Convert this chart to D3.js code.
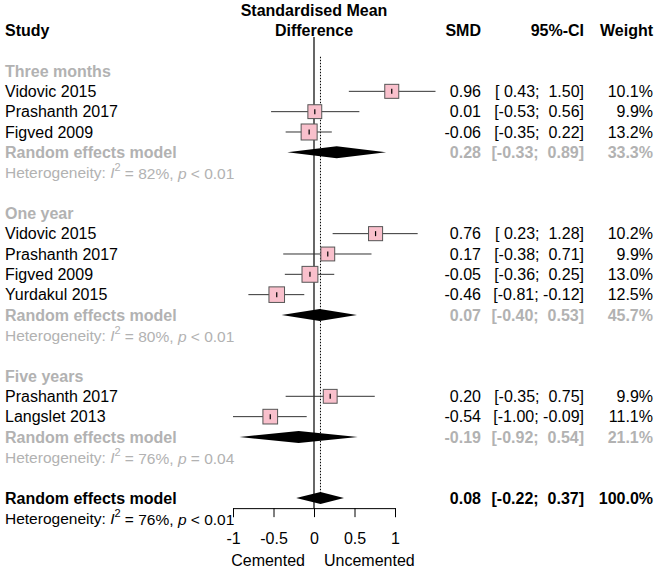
<!DOCTYPE html>
<html>
<head>
<meta charset="utf-8">
<script src="https://cdn.jsdelivr.net/npm/d3@7"></script>
<style>
  body { margin: 0; background: #fff; }
  svg text { font-family: "Liberation Sans", Arial, sans-serif; white-space: pre; }
</style>
</head>
<body>
<script>
// studies, in plot order
const study = ["Vidovic 2015", "Prashanth 2017", "Figved 2009",
               "Vidovic 2015", "Prashanth 2017", "Figved 2009", "Yurdakul 2015",
               "Prashanth 2017", "Langslet 2013"];
const studyGroup = [0, 0, 0, 1, 1, 1, 1, 2, 2];
const smd    = [0.96, 0.01, -0.06, 0.76, 0.17, -0.05, -0.46, 0.20, -0.54];
const lower  = [0.43, -0.53, -0.35, 0.23, -0.38, -0.36, -0.81, -0.35, -1.00];
const upper  = [1.50, 0.56, 0.22, 1.28, 0.71, 0.25, -0.12, 0.75, -0.09];
const weight = [10.1, 9.9, 13.2, 10.2, 9.9, 13.0, 12.5, 9.9, 11.1];

// subgroups
const groups      = ["Three months", "One year", "Five years"];
const groupSmd    = [0.28, 0.07, -0.19];
const groupLower  = [-0.33, -0.40, -0.92];
const groupUpper  = [0.89, 0.53, 0.54];
const groupWeight = [33.3, 45.7, 21.1];
const groupI2     = [82, 80, 76];
const groupP      = ["< 0.01", "< 0.01", "= 0.04"];

// overall
const overallSmd = 0.08, overallLower = -0.22, overallUpper = 0.37, overallWeight = 100.0;
const overallI2 = 76, overallP = "< 0.01";

const tickValues = [-1, -0.5, 0, 0.5, 1];

const width = 657, height = 569;
const grey = "#b2b2b2";

var svg = d3.select("body").append("svg")
    .attr("width", width)
    .attr("height", height);

svg.append("rect").attr("width", width).attr("height", height).attr("fill", "#fff");

var x = d3.scaleLinear().domain([-1, 1]).range([233, 395]);
var y = d3.scaleLinear().domain([0, 22]).range([71, 518.3]);
var boxSize = d3.scaleSqrt().domain([0, 13.2]).range([0, 16]);

var colSMD = 481, colCI = 584, colW = 653;

function fmt(v) { return v.toFixed(2); }
function pad(v) { return (v < 0 ? "" : " ") + v.toFixed(2); }
function ci(l, u) { return "[" + pad(l) + "; " + pad(u) + "]"; }

// build rows
var rows = [];
var r = 0;
groups.forEach(function(g, gi) {
    rows.push({type: "group", row: r++, label: g});
    study.forEach(function(s, i) {
        if (studyGroup[i] !== gi) return;
        rows.push({type: "study", row: r++, label: s, est: smd[i], lo: lower[i], hi: upper[i], w: weight[i]});
    });
    rows.push({type: "sub", row: r++, label: "Random effects model", est: groupSmd[gi],
               lo: groupLower[gi], hi: groupUpper[gi], w: groupWeight[gi]});
    rows.push({type: "het", row: r++, i2: groupI2[gi], p: groupP[gi], color: grey});
    r++;
});
rows.push({type: "overall", row: r++, label: "Random effects model", est: overallSmd,
           lo: overallLower, hi: overallUpper, w: overallWeight});
rows.push({type: "het", row: r++, i2: overallI2, p: overallP, color: "#000"});

var axisY = y(21.5);

// reference lines
svg.append("line")
    .attr("x1", x(0)).attr("x2", x(0))
    .attr("y1", y(-1.67)).attr("y2", axisY)
    .attr("stroke", "#000").attr("stroke-width", 1.2);

svg.append("line")
    .attr("x1", x(overallSmd)).attr("x2", x(overallSmd))
    .attr("y1", y(-0.7)).attr("y2", y(21))
    .attr("stroke", "#000").attr("stroke-width", 1)
    .attr("stroke-dasharray", "1.5,1.5");

// header
svg.append("text").attr("x", 5).attr("y", y(-2)).attr("dy", "0.35em")
    .attr("font-size", 16).attr("font-weight", "bold").text("Study");
svg.append("text").attr("x", x(0)).attr("y", y(-3)).attr("dy", "0.35em")
    .attr("text-anchor", "middle").attr("font-size", 16).attr("font-weight", "bold")
    .text("Standardised Mean");
svg.append("text").attr("x", x(0)).attr("y", y(-2)).attr("dy", "0.35em")
    .attr("text-anchor", "middle").attr("font-size", 16).attr("font-weight", "bold")
    .text("Difference");
[["SMD", colSMD], ["95%-CI", colCI], ["Weight", colW]].forEach(function(h) {
    svg.append("text").attr("x", h[1]).attr("y", y(-2)).attr("dy", "0.35em")
        .attr("text-anchor", "end").attr("font-size", 16).attr("font-weight", "bold")
        .text(h[0]);
});

rows.forEach(function(d) {
    var cy = y(d.row);
    if (d.type === "het") {
        var t = svg.append("text").attr("x", 5).attr("y", cy).attr("dy", "0.35em")
            .attr("font-size", 15.5).attr("fill", d.color);
        t.append("tspan").text("Heterogeneity: ");
        t.append("tspan").attr("font-style", "italic").text("I");
        t.append("tspan").attr("font-size", 11).attr("dy", "-0.6em").text("2");
        t.append("tspan").attr("dy", "0.5em").text(" = " + d.i2 + "%, ");
        t.append("tspan").attr("font-style", "italic").text("p");
        t.append("tspan").text(" " + d.p);
        return;
    }
    var color = (d.type === "group" || d.type === "sub") ? grey : "#000";
    var bold = d.type !== "study";
    svg.append("text").attr("x", 5).attr("y", cy).attr("dy", "0.35em")
        .attr("font-size", 16).attr("font-weight", bold ? "bold" : "normal")
        .attr("fill", color).text(d.label);
    if (d.type === "group") return;

    [[fmt(d.est), colSMD], [ci(d.lo, d.hi), colCI], [d.w.toFixed(1) + "%", colW]].forEach(function(c) {
        svg.append("text").attr("x", c[1]).attr("y", cy).attr("dy", "0.35em")
            .attr("text-anchor", "end").attr("font-size", 16)
            .attr("font-weight", bold ? "bold" : "normal")
            .attr("fill", color).text(c[0]);
    });

    if (d.type === "study") {
        var s = boxSize(d.w);
        svg.append("line")
            .attr("x1", x(d.lo)).attr("x2", x(d.hi))
            .attr("y1", cy).attr("y2", cy)
            .attr("stroke", "#333").attr("stroke-width", 1);
        svg.append("rect")
            .attr("x", x(d.est) - s / 2).attr("y", cy - s / 2)
            .attr("width", s).attr("height", s)
            .attr("fill", "#f9c0cc").attr("stroke", "#555").attr("stroke-width", 1);
        svg.append("line")
            .attr("x1", x(d.est)).attr("x2", x(d.est))
            .attr("y1", cy - 2.5).attr("y2", cy + 2.5)
            .attr("stroke", "#000").attr("stroke-width", 1.2);
    } else {
        var h = 6;
        svg.append("path")
            .attr("d", "M" + x(d.lo) + "," + cy + "L" + x(d.est) + "," + (cy - h) +
                  "L" + x(d.hi) + "," + cy + "L" + x(d.est) + "," + (cy + h) + "Z")
            .attr("fill", "#000");
    }
});

// axis
var xAxis = d3.axisBottom(x)
    .tickValues(tickValues)
    .tickSize(9)
    .tickSizeOuter(9)
    .tickPadding(16)
    .tickFormat(function(d) { return String(d); });

var gAxis = svg.append("g")
    .attr("transform", "translate(0," + axisY + ")")
    .call(xAxis);
gAxis.select(".domain").attr("stroke", "#000");
gAxis.selectAll(".tick line").attr("stroke", "#000");
gAxis.selectAll(".tick text")
    .attr("font-size", 16)
    .attr("font-family", "'Liberation Sans', Arial, sans-serif")
    .attr("fill", "#000");

svg.append("text").attr("x", x(0) - 9).attr("y", 566)
    .attr("text-anchor", "end").attr("font-size", 16).text("Cemented");
svg.append("text").attr("x", x(0) + 10).attr("y", 566)
    .attr("text-anchor", "start").attr("font-size", 16).text("Uncemented");
</script>
</body>
</html>
